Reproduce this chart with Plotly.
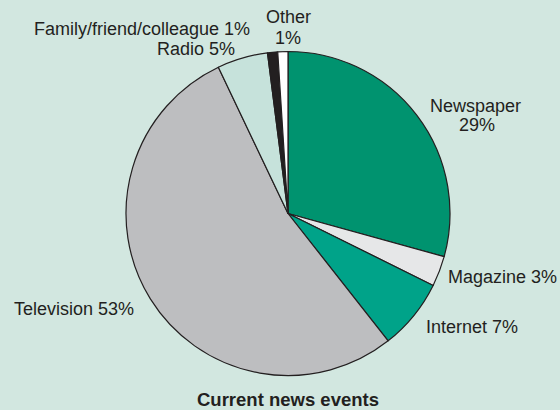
import plotly.graph_objects as go

# Sources of current news events (percent of respondents)
labels = ["Newspaper", "Magazine", "Internet", "Television", "Radio",
          "Family/friend/colleague", "Other"]
values = [29, 3, 7, 53, 5, 1, 1]
colors = ["#00936F", "#E6E7E8", "#00A389", "#BDBEC0", "#C6E2DB",
          "#231F20", "#FFFFFF"]
title_text = "Current news events"

BG = "#D2E7E0"
INK = "#231F20"
FONT = "Liberation Sans, Arial, sans-serif"

W, H = 560, 410
cx, cy, r = 288, 213.5, 162  # pie centre / radius in px

fig = go.Figure(go.Pie(
    labels=labels,
    values=values,
    sort=False,
    direction="clockwise",
    rotation=0,
    textinfo="none",
    hoverinfo="label+value",
    marker=dict(colors=colors, line=dict(color=INK, width=1.2)),
    domain=dict(x=[(cx - r) / W, (cx + r) / W],
                y=[(H - cy - r) / H, (H - cy + r) / H]),
    showlegend=False,
))

# Slice labels: one annotation per text line, anchors in px (x, y from top)
label_lines = [
    ("Family/friend/colleague 1%", 252, 29, "right"),
    ("Radio 5%", 237, 49, "right"),
    ("Other", 288, 17, "center"),
    ("1%", 288, 38, "center"),
    ("Newspaper", 475, 106, "center"),
    ("29%", 477, 125, "center"),
    ("Magazine 3%", 446, 277, "left"),
    ("Internet 7%", 424, 327, "left"),
    ("Television 53%", 12, 309, "left"),
]

annotations = []
for text, x, y, anchor in label_lines:
    annotations.append(dict(
        text=text, x=x / W, y=1 - y / H, xref="paper", yref="paper",
        xanchor=anchor, yanchor="middle", showarrow=False,
        font=dict(family=FONT, size=18, color=INK),
    ))

annotations.append(dict(
    text="<b>" + title_text + "</b>", x=288 / W, y=1 - 399 / H,
    xref="paper", yref="paper", xanchor="center", yanchor="middle",
    showarrow=False, font=dict(family=FONT, size=18.5, color=INK),
))

fig.update_layout(
    width=W, height=H,
    margin=dict(l=0, r=0, t=0, b=0),
    paper_bgcolor=BG, plot_bgcolor=BG,
    annotations=annotations,
)

fig.write_html("out.html")
